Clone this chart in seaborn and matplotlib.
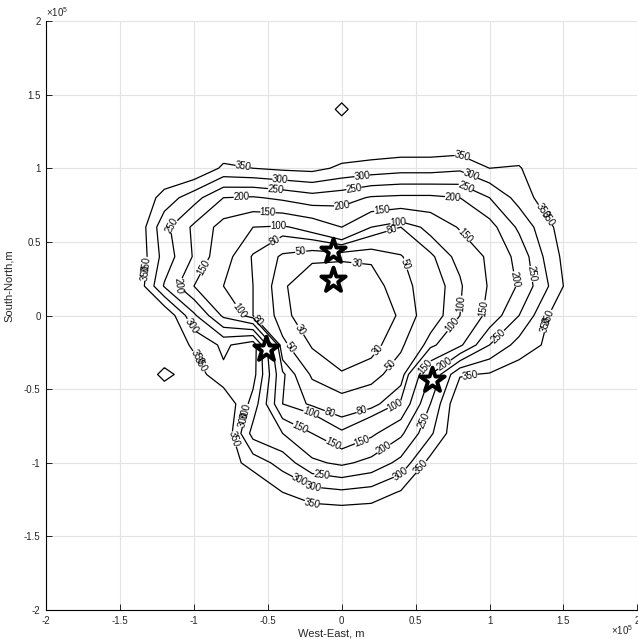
import numpy as np
import matplotlib
matplotlib.use("Agg")
import matplotlib.pyplot as plt
import seaborn as sns
from matplotlib.ticker import FuncFormatter, FixedLocator

# grid coordinates (units of 1e5 m)
x_grid = [-1.4, -1.2, -1.0, -0.8, -0.6, -0.4, -0.2, 0.0, 0.2, 0.4, 0.6, 0.8, 1.0, 1.2, 1.4, 1.6]
y_grid = [1.6, 1.4, 1.2, 1.0, 0.8, 0.6, 0.4, 0.2, 0.0, -0.2, -0.4, -0.6, -0.8, -1.0, -1.2, -1.4, -1.6]

# field values, one row per y_grid value
row_p16 = [400, 400, 400, 400, 400, 400, 400, 400, 400, 400, 400, 400, 400, 400, 400, 400]
row_p14 = [400, 400, 400, 400, 400, 400, 400, 336, 400, 400, 400, 400, 400, 400, 400, 400]
row_p12 = [400, 400, 400, 400, 400, 400, 400, 400, 400, 400, 400, 400, 400, 400, 400, 400]
row_p10 = [400, 400, 400, 340, 350, 360, 365, 340, 330, 320, 320, 310, 350, 345, 400, 400]
row_p08 = [400, 330, 270, 200, 195, 210, 230, 220, 195, 190, 190, 200, 250, 320, 380, 400]
row_p06 = [400, 265, 190, 130, 100, 95, 115, 150, 100, 80, 110, 155, 180, 260, 340, 400]
row_p04 = [400, 280, 195, 110, 78, 45, 33, 33, 33, 48, 75, 110, 160, 215, 320, 400]
row_p02 = [400, 245, 150, 100, 80, 32, 20, 15, 22, 40, 65, 95, 155, 205, 300, 400]
row_000 = [400, 400, 260, 140, 80, 38, 12, 10, 15, 33, 65, 100, 165, 250, 350, 400]
row_m02 = [400, 400, 340, 290, 330, 55, 28, 15, 22, 45, 90, 140, 250, 320, 360, 400]
row_m04 = [400, 335, 380, 310, 320, 105, 45, 32, 40, 65, 200, 345, 355, 380, 400, 400]
row_m06 = [400, 400, 400, 400, 280, 100, 75, 60, 70, 105, 250, 400, 400, 400, 400, 400]
row_m08 = [400, 400, 400, 400, 230, 200, 150, 105, 140, 190, 290, 400, 400, 400, 400, 400]
row_m10 = [400, 400, 400, 380, 330, 280, 210, 190, 215, 265, 370, 400, 400, 400, 400, 400]
row_m12 = [400, 400, 400, 400, 400, 350, 320, 310, 320, 355, 400, 400, 400, 400, 400, 400]
row_m14 = [400, 400, 400, 400, 400, 400, 400, 400, 400, 400, 400, 400, 400, 400, 400, 400]
row_m16 = [400, 400, 400, 400, 400, 400, 400, 400, 400, 400, 400, 400, 400, 400, 400, 400]

levels = [30, 50, 80, 100, 150, 200, 250, 300, 350]

# station positions (units of 1e5 m)
station_x = [-0.057, -0.057, -0.51, 0.61]
station_y = [0.44, 0.24, -0.23, -0.44]

ticks = [-2, -1.5, -1, -0.5, 0, 0.5, 1, 1.5, 2]

# contour label anchor points
label_xy = [
    (0.1, 0.33), (-0.27, -0.09), (0.28, -0.27),
    (-0.28, 0.46), (0.46, 0.36), (-0.35, -0.22), (0.35, -0.35),
    (-0.47, 0.54), (0.34, 0.58), (-0.57, -0.04), (0.72, -0.04), (-0.08, -0.66), (0.14, -0.66),
    (-0.43, 0.61), (0.38, 0.63), (-0.71, 0.02), (0.81, 0.08), (-0.21, -0.66), (0.35, -0.59),
    (-0.5, 0.68), (0.27, 0.72), (-0.9, 0.31), (0.87, 0.58), (0.96, 0.05), (-0.08, -0.92), (0.14, -0.86), (0.56, -0.34),
    (-0.68, 0.8), (0.0, 0.74), (0.75, 0.8), (-1.13, 0.22), (1.19, 0.25), (-0.3, -0.8), (-0.13, -1.04), (0.29, -0.91), (0.7, -0.34),
    (-0.45, 0.84), (0.08, 0.88), (0.85, 0.9), (-1.16, 0.62), (1.33, 0.29), (-0.99, -0.05), (1.07, -0.15), (0.59, -0.73), (-0.19, -1.17), (-0.62, -0.66),
    (-0.42, 0.89), (0.14, 0.92), (0.88, 0.97), (1.35, 0.7), (-1.33, 0.29), (1.36, 0.0), (-1.0, -0.3), (-0.67, -0.66), (-0.29, -1.13), (0.41, -1.1),
    (-0.67, 1.0), (0.82, 1.1), (1.41, 0.67), (1.38, -0.04), (-1.31, 0.3), (-1.02, -0.34), (-0.76, -0.85), (-0.2, -1.27), (0.55, -1.04), (0.87, -0.42),
]

Z = np.array([row_p16, row_p14, row_p12, row_p10, row_p08, row_p06, row_p04, row_p02, row_000,
              row_m02, row_m04, row_m06, row_m08, row_m10, row_m12, row_m14, row_m16], dtype=float)

sns.set_theme(style="whitegrid")
plt.rcParams['font.family'] = ['Liberation Sans', 'DejaVu Sans']
plt.rcParams['mathtext.fontset'] = 'custom'
plt.rcParams['mathtext.rm'] = 'Liberation Sans'

fig = plt.figure(figsize=(6.38, 6.39), dpi=100)
ax = fig.add_axes([0.0723, 0.0452, 0.9266, 0.922])
ax.set_facecolor('white')

X, Y = np.meshgrid(x_grid, y_grid)
cs = ax.contour(X, Y, Z, levels=levels, colors='black', linewidths=0.9)
ax.clabel(cs, fmt='%d', fontsize=7, inline=True, inline_spacing=2, manual=label_xy)

sns.scatterplot(x=station_x, y=station_y, marker='*', s=340, color='white',
                edgecolor='black', linewidth=2.8, ax=ax, zorder=5, legend=False)

ax.set_xlim(-2, 2)
ax.set_ylim(-2, 2)
ax.xaxis.set_major_locator(FixedLocator(ticks))
ax.yaxis.set_major_locator(FixedLocator(ticks))
fmt = FuncFormatter(lambda v, p: '%g' % v)
ax.xaxis.set_major_formatter(fmt)
ax.yaxis.set_major_formatter(fmt)
ax.grid(True, color='#e3e3e3', linewidth=0.8)
ax.tick_params(direction='in', length=4, width=0.6, colors='black', labelcolor='#262626',
               labelsize=7, left=True, bottom=True, top=False, right=False, pad=4)
for s in ['top', 'right']:
    ax.spines[s].set_visible(False)
for s in ['left', 'bottom']:
    ax.spines[s].set_color('black')
    ax.spines[s].set_linewidth(0.8)

ax.set_xlabel('West-East, m', fontsize=8, color='#262626')
ax.set_ylabel('South-North,m', fontsize=8, color='#262626')
ax.xaxis.set_label_coords(0.482, -0.0305)
ax.yaxis.set_label_coords(-0.055, 0.55)

ax.text(0.0, 1.004, r'$\times10^{5}$', transform=ax.transAxes, ha='left', va='bottom',
        fontsize=7, color='#262626')
ax.text(0.993, -0.042, r'$\times10^{5}$', transform=ax.transAxes, ha='right', va='baseline',
        fontsize=7, color='#262626')

fig.savefig('out.png', dpi=100, facecolor='white')
